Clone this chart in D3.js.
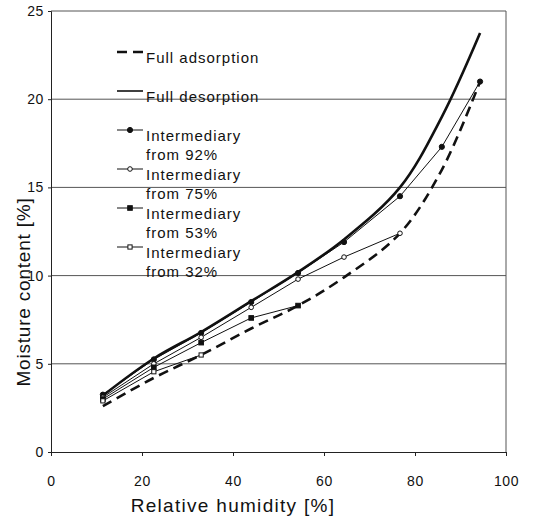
<!DOCTYPE html>
<html>
<head>
<meta charset="utf-8">
<style>
  body { margin: 0; background: #fff; }
  text { font-family: "Liberation Sans", Arial, sans-serif; fill: #111; }
</style>
</head>
<body>
<script src="https://d3js.org/d3.v7.min.js"></script>
<script>

// relative humidity of the saturated salt solutions [%]
var rh = [11.4, 22.6, 33.0, 44.0, 54.3, 64.4, 76.7, 85.9, 94.3];

// moisture content [%]
var fullAdsorption = [2.6, 4.2, 5.5, 7.0, 8.3, 9.9, 12.4, 16.0, 21.0];
var fullDesorption = [3.2, 5.3, 6.8, 8.55, 10.2, 12.05, 15.0, 19.0, 23.75];
var from92 = [3.25, 5.25, 6.75, 8.5, 10.15, 11.9, 14.5, 17.3, 21.0];
var from75 = [3.1, 5.0, 6.5, 8.2, 9.8, 11.05, 12.4];
var from53 = [3.0, 4.8, 6.2, 7.6, 8.3];
var from32 = [2.9, 4.55, 5.5];

var xTicks = [0, 20, 40, 60, 80, 100],
    yTicks = [0, 5, 10, 15, 20, 25];

var width = 535,
    height = 521,
    margin = {top: 11, right: 29, bottom: 69, left: 51};

var svg = d3.select('body').append('svg')
    .attr('width', width)
    .attr('height', height);

var x = d3.scaleLinear().domain([0, 100]).range([margin.left, width - margin.right]);
var y = d3.scaleLinear().domain([0, 25]).range([height - margin.bottom, margin.top]);

// gridlines
svg.append('g').selectAll('line')
    .data(yTicks.slice(1))
    .enter().append('line')
    .attr('x1', x(0)).attr('x2', x(100))
    .attr('y1', function(d) { return y(d); })
    .attr('y2', function(d) { return y(d); })
    .attr('stroke', '#555')
    .attr('stroke-width', 1);

// right frame
svg.append('line')
    .attr('x1', x(100)).attr('x2', x(100))
    .attr('y1', y(25)).attr('y2', y(0))
    .attr('stroke', '#555');

// axes
var xAxis = svg.append('g')
    .attr('transform', 'translate(0,' + y(0) + ')')
    .call(d3.axisBottom(x).tickValues(xTicks).tickSize(4).tickPadding(20));
var yAxis = svg.append('g')
    .attr('transform', 'translate(' + x(0) + ',0)')
    .call(d3.axisLeft(y).tickValues(yTicks).tickSize(3).tickPadding(4));

[xAxis, yAxis].forEach(function(a) {
  a.select('.domain').attr('stroke', '#222');
  a.selectAll('.tick line').attr('stroke', '#222');
  a.selectAll('.tick text')
      .style('font-family', '"Liberation Sans", Arial, sans-serif')
      .style('font-size', '14px')
      .style('letter-spacing', '0.6px')
      .attr('fill', '#111');
});

// axis titles
svg.append('text')
    .attr('x', 233).attr('y', 512)
    .attr('text-anchor', 'middle')
    .style('font-size', '19px')
    .style('letter-spacing', '1.3px')
    .text('Relative humidity [%]');

svg.append('text')
    .attr('transform', 'translate(30,292) rotate(-90)')
    .attr('text-anchor', 'middle')
    .style('font-size', '19px')
    .style('letter-spacing', '0.8px')
    .text('Moisture content [%]');

function pairs(vals) {
  return vals.map(function(v, i) { return [rh[i], v]; });
}

var smooth = d3.line()
    .x(function(d) { return x(d[0]); })
    .y(function(d) { return y(d[1]); })
    .curve(d3.curveCatmullRom.alpha(0.5));
var straight = d3.line()
    .x(function(d) { return x(d[0]); })
    .y(function(d) { return y(d[1]); });

var plot = svg.append('g');

plot.append('path')
    .attr('d', smooth(pairs(fullAdsorption)))
    .attr('fill', 'none').attr('stroke', '#111')
    .attr('stroke-width', 2.6)
    .attr('stroke-dasharray', '10,6');

plot.append('path')
    .attr('d', smooth(pairs(fullDesorption)))
    .attr('fill', 'none').attr('stroke', '#111')
    .attr('stroke-width', 2.6);

var inter = [
  {vals: from92, marker: 'circle', fill: '#111', size: 2.6},
  {vals: from75, marker: 'circle', fill: '#fff', size: 2.3},
  {vals: from53, marker: 'square', fill: '#111', size: 4.6},
  {vals: from32, marker: 'square', fill: '#fff', size: 4.2}
];

function drawMarker(g, s, cx, cy) {
  if (s.marker === 'circle') {
    g.append('circle')
        .attr('cx', cx).attr('cy', cy).attr('r', s.size)
        .attr('fill', s.fill).attr('stroke', '#111').attr('stroke-width', 1);
  } else {
    g.append('rect')
        .attr('x', cx - s.size / 2).attr('y', cy - s.size / 2)
        .attr('width', s.size).attr('height', s.size)
        .attr('fill', s.fill).attr('stroke', '#111').attr('stroke-width', 1);
  }
}

// intermediary curves start on the adsorption curve and go down in humidity
inter.forEach(function(s) {
  var pts = pairs(s.vals);
  plot.append('path')
      .attr('d', straight(pts))
      .attr('fill', 'none').attr('stroke', '#111')
      .attr('stroke-width', 1);
  pts.forEach(function(p) { drawMarker(plot, s, x(p[0]), y(p[1])); });
});

// legend
var legendLabels = [
  ['Full adsorption'],
  ['Full desorption'],
  ['Intermediary', 'from 92%'],
  ['Intermediary', 'from 75%'],
  ['Intermediary', 'from 53%'],
  ['Intermediary', 'from 32%']
];

var legend = svg.append('g');
legendLabels.forEach(function(lbl, i) {
  var ly = 52 + i * 39;
  var line = legend.append('line')
      .attr('x1', 117).attr('x2', 143)
      .attr('y1', ly).attr('y2', ly)
      .attr('stroke', '#111');
  if (i === 0) line.attr('stroke-width', 2.6).attr('stroke-dasharray', '10,6');
  else if (i === 1) line.attr('stroke-width', 1.6);
  else {
    line.attr('stroke-width', 1);
    drawMarker(legend, inter[i - 2], 130, ly);
  }
  lbl.forEach(function(t, j) {
    legend.append('text')
        .attr('x', 146)
        .attr('y', ly + 11 + j * 19)
        .style('font-size', '15px')
        .style('letter-spacing', '1px')
        .text(t);
  });
});

</script>
</body>
</html>
